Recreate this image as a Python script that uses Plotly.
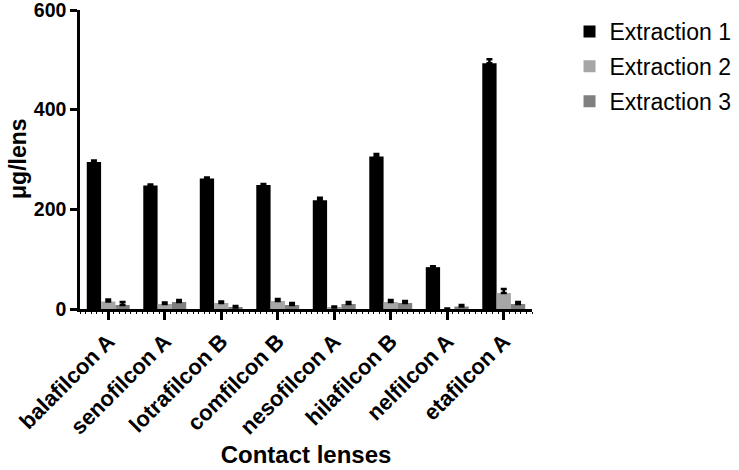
import plotly.graph_objects as go

categories = ["balafilcon A", "senofilcon A", "lotrafilcon B", "comfilcon B",
              "nesofilcon A", "hilafilcon B", "nelfilcon A", "etafilcon A"]
extraction1 = [295, 248, 262, 249, 218, 306, 84, 493]
extraction2 = [15, 10, 12, 16, 3, 14, 0, 32]
extraction3 = [8, 14, 3, 8, 10, 12, 5, 10]
err1 = [3, 2, 2, 2, 5, 5, 2, 8]
err2 = [4, 3, 3, 4, 2, 4, 1, 8]
err3 = [6, 4, 3, 4, 4, 4, 3, 4]
series_names = ["Extraction 1", "Extraction 2", "Extraction 3"]
colors = ["#000000", "#a6a6a6", "#808080"]
y_ticks = [0, 200, 400, 600]

x = list(range(len(categories)))
fig = go.Figure()
for name, vals, errs, col in zip(series_names, [extraction1, extraction2, extraction3],
                                  [err1, err2, err3], colors):
    fig.add_trace(go.Bar(
        x=x, y=vals, name=name, marker=dict(color=col, line=dict(width=0)),
        error_y=dict(type="data", array=errs, arrayminus=[0]*len(errs), symmetric=False,
                     color="black", thickness=2.5, width=3),
        legendgroup=name,
    ))

font = "Liberation Sans, Arial, sans-serif"
fig.update_layout(
    width=739, height=470,
    margin=dict(l=80, r=207, t=10, b=161, autoexpand=False),
    paper_bgcolor="white", plot_bgcolor="white",
    barmode="group", bargap=0.24, bargroupgap=0,
    font=dict(family=font, color="black"),
    legend=dict(x=1.083, y=1.0, xanchor="left", yanchor="top",
                font=dict(size=23, family=font, color="black"),
                tracegroupgap=2, itemwidth=30, bgcolor="rgba(0,0,0,0)"),
    xaxis=dict(
        range=[-0.5, 7.5], tickvals=x, ticktext=categories, tickangle=-45,
        tickfont=dict(size=22, family=font, color="black", weight="bold"),
        showline=True, linecolor="black", linewidth=2.5,
        ticks="outside", ticklen=8, tickwidth=2.5, tickcolor="black",
        minor=dict(dtick=0.1, tick0=-0.5, ticks="outside", ticklen=2, tickwidth=1, tickcolor="black"),
        showgrid=False, zeroline=False, automargin=False, ticklabeloverflow="allow",
        title=dict(text="<b>Contact lenses</b>", font=dict(size=24, family=font, color="black"), standoff=8),
    ),
    yaxis=dict(
        range=[0, 600], tickvals=y_ticks,
        tickfont=dict(size=19.5, family=font, color="black", weight="bold"),
        showline=True, linecolor="black", linewidth=2.5,
        ticks="outside", ticklen=7, tickwidth=2.5, tickcolor="black",
        showgrid=False, zeroline=False, automargin=False, ticklabeloverflow="allow",
    ),
    annotations=[dict(text="<b>μg/lens</b>", textangle=-90, xref="paper", yref="paper",
                      x=-0.137, y=0.502, xanchor="center", yanchor="middle", showarrow=False,
                      font=dict(size=23, family=font, color="black"))],
)
fig.write_html("out.html", post_script="document.body.style.margin='0';",
               config={"displayModeBar": False})
